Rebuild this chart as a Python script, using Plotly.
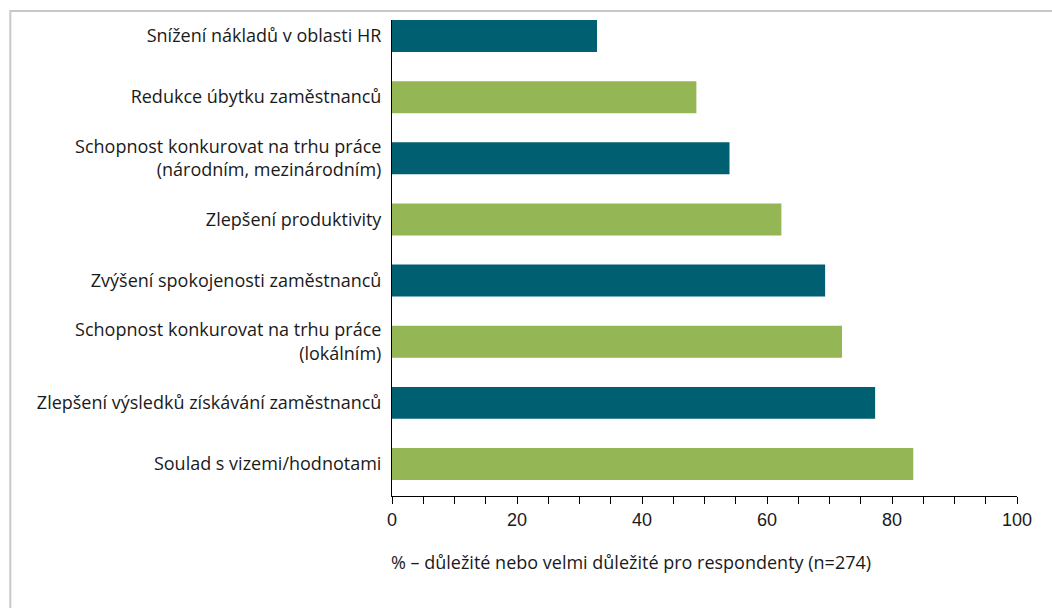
import plotly.graph_objects as go

# Survey categories, listed bottom-to-top as they appear on the y axis
categories = [
    "Soulad s vizemi/hodnotami",
    "Zlepšení výsledků získávání zaměstnanců",
    "Schopnost konkurovat na trhu práce<br>(lokálním)",
    "Zvýšení spokojenosti zaměstnanců",
    "Zlepšení produktivity",
    "Schopnost konkurovat na trhu práce<br>(národním, mezinárodním)",
    "Redukce úbytku zaměstnanců",
    "Snížení nákladů v oblasti HR",
]
# Share of respondents rating the item important or very important (%)
values = [83.4, 77.3, 72.0, 69.3, 62.3, 54.0, 48.7, 32.8]

TEAL = "#006072"
GREEN = "#94B655"
colors = [GREEN if i % 2 == 0 else TEAL for i in range(len(categories))]

x_ticks = [0, 20, 40, 60, 80, 100]
x_title = "% – důležité nebo velmi důležité pro respondenty (n=274)"

LABEL_FONT = "'Open Sans', Lato, sans-serif"
TICK_FONT = "'Liberation Sans', Arial, sans-serif"

fig = go.Figure(
    go.Bar(
        x=values,
        y=categories,
        orientation="h",
        marker=dict(color=colors, line=dict(width=0)),
        hoverinfo="x+y",
    )
)

fig.update_layout(
    width=1052,
    height=608,
    margin=dict(l=392, r=35, t=20, b=112),
    paper_bgcolor="white",
    plot_bgcolor="white",
    bargap=0.477,
    showlegend=False,
    font=dict(family=LABEL_FONT, size=18, color="#1a1a1a"),
    shapes=[
        # light frame around the figure panel
        dict(
            type="rect",
            xref="paper",
            yref="paper",
            x0=-0.6107,
            x1=1.08,
            y0=-0.3,
            y1=1.0189,
            line=dict(color="#c8c8c8", width=2),
            fillcolor="rgba(0,0,0,0)",
            layer="below",
        )
    ],
    annotations=[
        # x-axis caption, left-aligned under the axis origin
        dict(
            text=x_title,
            xref="paper",
            yref="paper",
            x=-0.005,
            y=-0.139,
            xanchor="left",
            yanchor="middle",
            showarrow=False,
            font=dict(family=LABEL_FONT, size=18, color="#1a1a1a"),
        )
    ],
)

fig.update_xaxes(
    range=[0, 100],
    tickvals=x_ticks,
    ticks="outside",
    ticklen=7,
    tickwidth=1,
    tickcolor="#000",
    minor=dict(dtick=5, ticks="outside", ticklen=7, tickwidth=1, tickcolor="#000"),
    showline=True,
    linecolor="#000",
    linewidth=1,
    showgrid=False,
    zeroline=False,
    tickfont=dict(family=TICK_FONT, size=18, color="#1a1a1a"),
    fixedrange=True,
)

fig.update_yaxes(
    categoryorder="array",
    categoryarray=categories,
    range=[-0.523, 7.262],
    showline=True,
    linecolor="#000",
    linewidth=1,
    ticks="",
    showgrid=False,
    zeroline=False,
    ticklabelstandoff=6,
    tickfont=dict(family=LABEL_FONT, size=18, color="#1a1a1a"),
    fixedrange=True,
)

fig.write_html("out.html")
